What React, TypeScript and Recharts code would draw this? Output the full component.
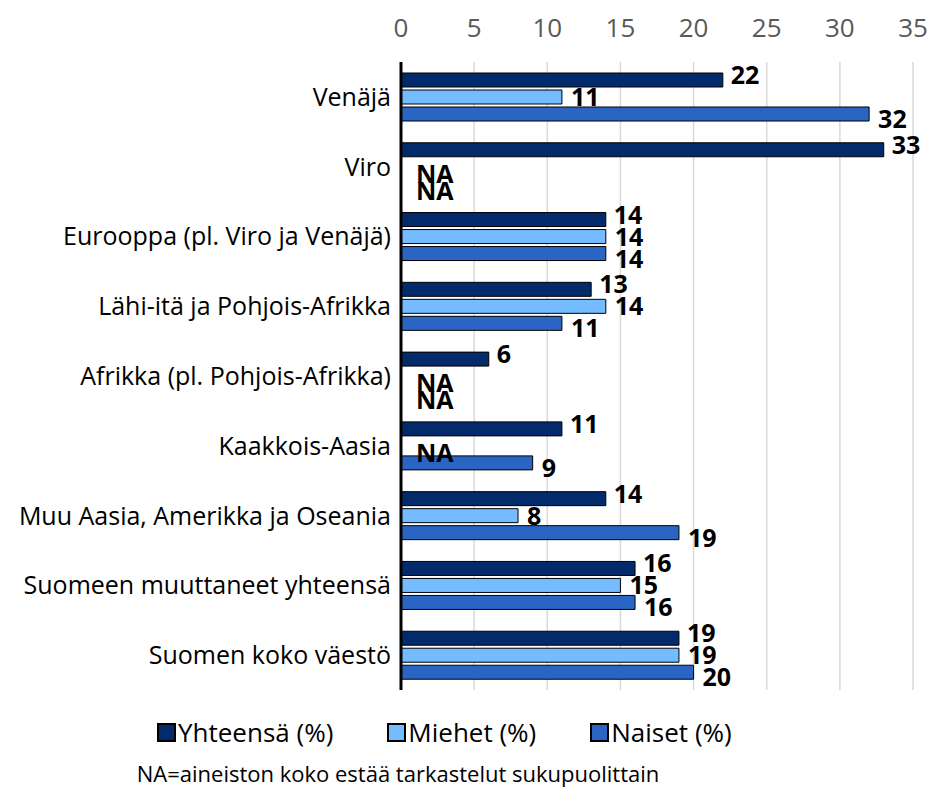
import { BarChart, Bar, XAxis, YAxis, CartesianGrid, LabelList } from 'recharts';

const categories = [
  'Venäjä',
  'Viro',
  'Eurooppa (pl. Viro ja Venäjä)',
  'Lähi-itä ja Pohjois-Afrikka',
  'Afrikka (pl. Pohjois-Afrikka)',
  'Kaakkois-Aasia',
  'Muu Aasia, Amerikka ja Oseania',
  'Suomeen muuttaneet yhteensä',
  'Suomen koko väestö',
];
const yhteensa: (number | null)[] = [22, 33, 14, 13, 6, 11, 14, 16, 19];
const miehet: (number | null)[] = [11, null, 14, 14, null, null, 8, 15, 19];
const naiset: (number | null)[] = [32, null, 14, 11, null, 9, 19, 16, 20];
const xTicks = [0, 5, 10, 15, 20, 25, 30, 35];

const series = [
  { key: 'y', name: 'Yhteensä (%)', color: '#032a6b', values: yhteensa, shift: -5 },
  { key: 'm', name: 'Miehet (%)', color: '#75bbff', values: miehet, shift: 0 },
  { key: 'n', name: 'Naiset (%)', color: '#2a65c4', values: naiset, shift: 5 },
];

const data = categories.map((name, i) => ({
  name,
  y: yhteensa[i] ?? 0,
  m: miehet[i] ?? 0,
  n: naiset[i] ?? 0,
}));

const font = '"Open Sans", "Noto Sans", sans-serif';
const BAR = 14;
const GAP = 3;

const ValueText = ({ x, y, text }: { x: number; y: number; text: string }) => (
  <text x={x} y={y} dy="0.36em" fontSize={25} fontWeight={700} fill="#000" fontFamily={font}>
    {text}
  </text>
);

// labels of the first series also carry the NA markers of the other two,
// because recharts drops zero-width bars from their own label lists
const totalLabel = (props: any) => {
  const { x, y, width, height, index } = props;
  const cy = Number(y) + Number(height) / 2;
  const raw = yhteensa[index];
  return (
    <g>
      <ValueText x={Number(x) + Number(width) + 8} y={cy - 5} text={String(raw)} />
      {[miehet, naiset].map((arr, k) =>
        arr[index] == null ? (
          <ValueText key={k} x={Number(x) + 15} y={cy + (BAR + GAP) * (k + 1) + 7} text="NA" />
        ) : null
      )}
    </g>
  );
};

const makeLabel = (shift: number) => (props: any) => {
  const { x, y, width, height, value } = props;
  if (value == null || value === 0) return null;
  return (
    <ValueText x={Number(x) + Number(width) + 9} y={Number(y) + Number(height) / 2 + shift} text={String(value)} />
  );
};

const TopTick = (props: any) => {
  const { x, payload } = props;
  return (
    <text x={x} y={28} dy="0.36em" textAnchor="middle" fontSize={26} fill="#595959" fontFamily={font}>
      {payload.value}
    </text>
  );
};

const CatTick = (props: any) => {
  const { x, y, payload } = props;
  return (
    <text x={x - 2} y={y} dy="0.36em" textAnchor="end" fontSize={25} fill="#000" fontFamily={font}>
      {payload.value}
    </text>
  );
};

const LegendBox = () => (
  <div style={{ position: 'absolute', left: 0, top: 714, width: 935, fontFamily: font, color: '#000' }}>
    <div style={{ display: 'flex', paddingLeft: 157, gap: 54, height: 36, alignItems: 'center', fontSize: 26 }}>
      {series.map((s) => (
        <div key={s.key} style={{ display: 'flex', alignItems: 'center' }}>
          <span
            style={{
              display: 'inline-block',
              width: 15,
              height: 15,
              background: s.color,
              border: '2px solid #000',
              marginRight: 2,
            }}
          />
          <span>{s.name}</span>
        </div>
      ))}
    </div>
    <div style={{ width: 796, textAlign: 'center', marginTop: 8, fontSize: 22 }}>
      NA=aineiston koko estää tarkastelut sukupuolittain
    </div>
  </div>
);

export default function App() {
  return (
    <div style={{ position: 'absolute', left: 0, top: 0, width: 935, height: 791, background: '#fff' }}>
      <BarChart
        width={935}
        height={791}
        data={data}
        layout="vertical"
        margin={{ top: 0, right: 22, bottom: 101, left: 0 }}
        barGap={GAP}
      >
        <CartesianGrid horizontal={false} stroke="#d9d9d9" strokeWidth={1.5} />
        <XAxis
          type="number"
          orientation="top"
          domain={[0, 35]}
          ticks={xTicks}
          height={62}
          axisLine={false}
          tickLine={false}
          tick={<TopTick />}
        />
        <YAxis
          type="category"
          dataKey="name"
          width={401}
          axisLine={{ stroke: '#000', strokeWidth: 3 }}
          tickLine={false}
          tick={<CatTick />}
        />
        {series.map((s) => (
          <Bar
            key={s.key}
            dataKey={s.key}
            name={s.name}
            fill={s.color}
            stroke="#000"
            strokeWidth={1}
            barSize={BAR}
            isAnimationActive={false}
          >
            <LabelList content={s.key === 'y' ? totalLabel : makeLabel(s.shift)} />
          </Bar>
        ))}
      </BarChart>
      <LegendBox />
    </div>
  );
}
